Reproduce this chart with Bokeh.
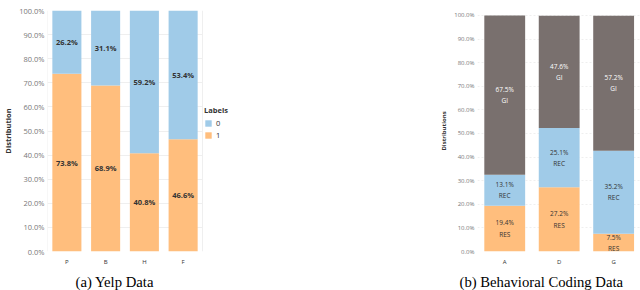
from bokeh.plotting import figure
from bokeh.layouts import row
from bokeh.models import (ColumnDataSource, Range1d, FixedTicker, NumeralTickFormatter,
                          Legend, LegendItem, Title, BoxAnnotation, Span)
from bokeh.core.properties import value
from bokeh.embed import file_html
from bokeh.resources import INLINE

# ---- data ----
yelp_cats = ["P", "B", "H", "F"]
yelp_label0 = [26.2, 31.1, 59.2, 53.4]
yelp_label1 = [73.8, 68.9, 40.8, 46.6]

bc_cats = ["A", "D", "G"]
bc_res = [19.4, 27.2, 7.5]
bc_rec = [13.1, 25.1, 35.2]
bc_gi = [67.5, 47.6, 57.2]

y_ticks = [0.0, 0.1, 0.2, 0.3, 0.4, 0.5, 0.6, 0.7, 0.8, 0.9, 1.0]

ORANGE = "#FFBE7D"
BLUE = "#A0CBE8"
GRAY = "#79706E"
FONT = "Open Sans"
TITLE_FONT = "Liberation Serif"


def style_axes(p, label, tick_size, label_size, tick_color, label_color):
    p.xgrid.grid_line_color = None
    p.ygrid.grid_line_color = "#efefef"
    p.yaxis.ticker = FixedTicker(ticks=y_ticks)
    p.yaxis.formatter = NumeralTickFormatter(format="0.0%")
    for ax in (p.xaxis[0], p.yaxis[0]):
        ax.axis_line_color = None
        ax.major_tick_line_color = None
        ax.minor_tick_line_color = None
        ax.major_tick_out = 0
        ax.major_tick_in = 0
        ax.major_label_text_font = FONT
        ax.major_label_text_color = tick_color
        ax.major_label_text_font_size = tick_size
    p.yaxis.major_label_standoff = 3
    p.xaxis.major_label_standoff = 6
    p.xaxis.major_label_text_font_size = "6px"
    p.xaxis.major_label_text_color = "#333333"
    p.yaxis.axis_label = label
    p.yaxis.axis_label_text_font = FONT
    p.yaxis.axis_label_text_font_size = label_size
    p.yaxis.axis_label_text_font_style = "bold"
    p.yaxis.axis_label_text_color = label_color
    p.yaxis.axis_label_standoff = 3
    p.outline_line_color = None


# ---- (a) Yelp ----
n1 = len(yelp_cats)
xs1 = list(range(n1))
src1 = ColumnDataSource(dict(x=xs1, l1=[v / 100 for v in yelp_label1],
                             l0=[v / 100 for v in yelp_label0]))
p1 = figure(frame_width=279, frame_height=241, x_range=Range1d(-0.5, 6.7),
            y_range=Range1d(0, 1), output_backend="svg", toolbar_location=None,
            min_border_left=45, min_border_right=0, min_border_top=10,
            min_border_bottom=39)
style_axes(p1, "Distribution", "7.5px", "7.5px", "#777777", "#333333")
# blank the area right of the bars (legend area), then pane borders
p1.add_layout(BoxAnnotation(left=n1 - 0.5, fill_color="white", fill_alpha=1,
                            line_color=None, level="underlay"))
for loc in (-0.5, n1 - 0.5):
    p1.add_layout(Span(location=loc, dimension="height", line_color="#efefef",
                       line_width=1, level="underlay"))
r1 = p1.vbar_stack(["l1", "l0"], x="x", width=0.75, color=[ORANGE, BLUE],
                   line_color=None, source=src1)
p1.xaxis.ticker = FixedTicker(ticks=xs1)
p1.xaxis.major_label_overrides = {i: c for i, c in enumerate(yelp_cats)}

t1 = ColumnDataSource(dict(
    x=xs1 + xs1,
    y=[v / 200 for v in yelp_label1] + [(a + b / 2) / 100 for a, b in zip(yelp_label1, yelp_label0)],
    t=["%.1f%%" % v for v in yelp_label1] + ["%.1f%%" % v for v in yelp_label0]))
p1.text("x", "y", text="t", source=t1, text_align="center", text_baseline="middle",
        text_font=value(FONT), text_font_size="7.5px", text_font_style="bold",
        text_color="#333333")

leg = Legend(items=[LegendItem(label="0", renderers=[r1[1]]),
                    LegendItem(label="1", renderers=[r1[0]])],
             location=(157, 111), title="Labels",
             title_text_font=FONT, title_text_font_size="7.5px",
             title_text_font_style="bold", title_text_color="#333333",
             label_text_font=FONT, label_text_font_size="7.5px",
             label_text_color="#333333", glyph_width=8, glyph_height=8,
             label_height=8, spacing=2, padding=0, margin=0,
             border_line_color=None, background_fill_alpha=0,
             title_standoff=3, label_standoff=4)
p1.add_layout(leg)
p1.add_layout(Title(text="(a) Yelp Data", align="left", offset=28,
                    text_font=TITLE_FONT, text_font_size="14.7px",
                    text_font_style="normal", text_color="black", standoff=7), "below")

# ---- (b) Behavioral Coding ----
xs2 = list(range(len(bc_cats)))
src2 = ColumnDataSource(dict(x=xs2, res=[v / 100 for v in bc_res],
                             rec=[v / 100 for v in bc_rec], gi=[v / 100 for v in bc_gi]))
p2 = figure(frame_width=165, frame_height=241, x_range=Range1d(-0.5, 2.53),
            y_range=Range1d(0, 1.021), output_backend="svg", toolbar_location=None,
            min_border_left=151, min_border_right=0, min_border_top=10,
            min_border_bottom=39)
p2.vbar_stack(["res", "rec", "gi"], x="x", width=0.75, color=[ORANGE, BLUE, GRAY],
              line_color=None, source=src2)
p2.xaxis.ticker = FixedTicker(ticks=xs2)
p2.xaxis.major_label_overrides = {i: c for i, c in enumerate(bc_cats)}

ys_res = [v / 200 for v in bc_res]
ys_rec = [(a + b / 2) / 100 for a, b in zip(bc_res, bc_rec)]
ys_gi = [(a + b + c / 2) / 100 for a, b, c in zip(bc_res, bc_rec, bc_gi)]
t2 = ColumnDataSource(dict(
    x=xs2 * 3, y=ys_res + ys_rec + ys_gi,
    t=["%.1f%%\nRES" % v for v in bc_res] + ["%.1f%%\nREC" % v for v in bc_rec]
      + ["%.1f%%\nGI" % v for v in bc_gi],
    c=["#333333"] * 6 + ["white"] * 3))
p2.text("x", "y", text="t", source=t2, text_align="center", text_baseline="middle",
        text_font=value(FONT), text_font_size="6.5px", text_color="c",
        text_line_height=1.25)
style_axes(p2, "Distributions", "6px", "6px", "#777777", "#333333")
p2.ygrid.grid_line_dash = "2 2"
p2.add_layout(Title(text="(b) Behavioral Coding Data", align="left", offset=-18,
                    text_font=TITLE_FONT, text_font_size="14.7px",
                    text_font_style="normal", text_color="black", standoff=7), "below")

layout = row(p1, p2)
open("out.html", "w").write(file_html(layout, INLINE))
